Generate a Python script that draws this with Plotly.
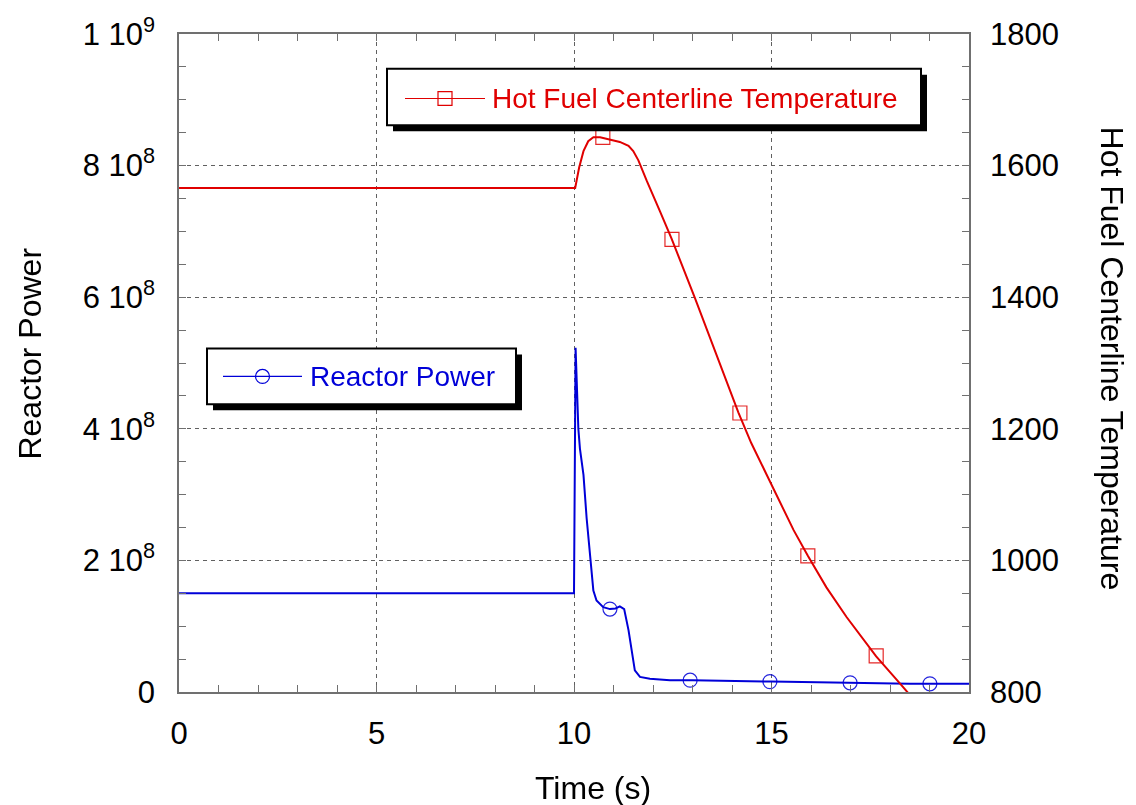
import plotly.graph_objects as go

# Reactor power transient (W) versus time (s)
time_power = [0, 10.0, 10.04, 10.11, 10.15, 10.24, 10.32, 10.41, 10.49, 10.57, 10.74, 10.91,
              11.05, 11.16, 11.27, 11.38, 11.46, 11.54, 11.67, 11.92, 12.43, 13.0, 15.0,
              17.0, 18.45, 18.5, 20.0]
power = [1.5e8, 1.5e8, 5.23e8, 4.0e8, 3.7e8, 3.3e8, 2.64e8, 1.99e8, 1.54e8, 1.39e8, 1.29e8, 1.26e8,
         1.27e8, 1.30e8, 1.26e8, 0.94e8, 0.63e8, 0.33e8, 0.23e8, 0.20e8, 0.18e8, 1.8e7, 1.58e7,
         1.4e7, 1.3e7, 1.25e7, 1.25e7]

# Hot fuel centerline temperature versus time (s)
time_temp = [0, 5, 10.0, 10.03, 10.13, 10.24, 10.36, 10.49, 10.66, 10.91, 11.16, 11.38, 11.5,
             11.63, 11.84, 12.18, 12.47, 13.06, 13.61, 14.16, 14.49, 15.05, 15.56,
             15.92, 16.39, 16.9, 17.65, 18.25, 18.46, 18.7]
temperature = [1566, 1566, 1565, 1566, 1597, 1622, 1637, 1643, 1643, 1639, 1636, 1630, 1622,
               1608, 1577, 1530, 1489, 1399, 1311, 1225, 1178, 1110, 1046,
               1007, 959, 914, 854, 813, 798, 782]

# Symbol positions along each curve
power_marker_t = [10.91, 12.94, 14.96, 16.99, 19.01]
power_marker_v = [1.26e8, 1.8e7, 1.58e7, 1.4e7, 1.25e7]
temp_marker_t = [10.73, 12.48, 14.2, 15.92, 17.65]
temp_marker_v = [1643, 1488, 1224, 1007, 855]

# Tick labels
power_ticks = [0, 2e8, 4e8, 6e8, 8e8, 1e9]
power_ticktext = ["0", "2 10<sup>8</sup>", "4 10<sup>8</sup>", "6 10<sup>8</sup>",
                  "8 10<sup>8</sup>", "1 10<sup>9</sup>"]
temp_ticks = [800, 1000, 1200, 1400, 1600, 1800]
time_ticks = [0, 5, 10, 15, 20]

RED = "#e00000"
BLUE = "#0000d8"
FONT = "Liberation Sans, Arial, sans-serif"
W, H = 1136, 805
L, R, T, B = 179, 969, 29, 692


def px(x):
    return (x - L) / (R - L)


def py(y):
    return (B - y) / (B - T)


fig = go.Figure()
fig.add_trace(go.Scatter(x=time_power, y=power, mode="lines",
                         line=dict(color=BLUE, width=2), showlegend=False))
fig.add_trace(go.Scatter(x=power_marker_t, y=power_marker_v, mode="markers",
                         marker=dict(symbol="circle-open", size=14, color=BLUE,
                                     line=dict(width=1.2, color=BLUE)),
                         opacity=0.85, showlegend=False))
fig.add_trace(go.Scatter(x=time_temp, y=temperature, mode="lines", yaxis="y2",
                         line=dict(color=RED, width=2), showlegend=False))
fig.add_trace(go.Scatter(x=temp_marker_t, y=temp_marker_v, mode="markers", yaxis="y2",
                         marker=dict(symbol="square-open", size=14, color=RED,
                                     line=dict(width=1.2, color=RED)),
                         opacity=0.85, showlegend=False))

TICK_FONT = dict(family=FONT, size=31, color="black")
axis_common = dict(
    showline=True, linecolor="#707070", linewidth=1.5,
    ticks="inside", ticklen=7, tickcolor="#707070", tickwidth=1,
    zeroline=False,
    tickfont=TICK_FONT,
)

fig.update_layout(
    width=W, height=H,
    margin=dict(l=L, r=W - R, t=T, b=H - B),
    paper_bgcolor="white", plot_bgcolor="white",
    font=dict(family=FONT, color="black"),
    xaxis=dict(
        range=[0, 20], tickvals=time_ticks, mirror="ticks",
        showgrid=True, gridcolor="#606060", gridwidth=1, griddash="4px,4px",
        minor=dict(dtick=1, ticks="inside", ticklen=7, tickcolor="#707070", showgrid=False),
        ticklabelstandoff=13,
        **axis_common,
    ),
    yaxis=dict(
        range=[0, 1e9], tickvals=power_ticks, ticktext=power_ticktext, mirror=True,
        showgrid=True, gridcolor="#606060", gridwidth=1, griddash="4px,4px",
        minor=dict(dtick=5e7, tick0=0, ticks="inside", ticklen=7, tickcolor="#707070",
                   showgrid=False),
        ticklabelstandoff=16,
        **axis_common,
    ),
    yaxis2=dict(
        range=[800, 1800], tickvals=temp_ticks, overlaying="y", side="right",
        showgrid=False, showline=False, zeroline=False,
        ticks="inside", ticklen=7, tickcolor="#707070",
        minor=dict(dtick=50, tick0=800, ticks="inside", ticklen=7, tickcolor="#707070"),
        tickfont=TICK_FONT,
        ticklabelstandoff=20,
    ),
)

# Axis titles
TITLE_FONT = dict(family=FONT, size=32, color="black")
fig.add_annotation(text="Time (s)", x=px(593), y=py(789), xref="paper", yref="paper",
                   xanchor="center", yanchor="middle", showarrow=False, font=TITLE_FONT)
fig.add_annotation(text="Reactor Power", x=px(30), y=py(351), xref="paper", yref="paper",
                   xanchor="center", yanchor="middle", textangle=-90, showarrow=False,
                   font=TITLE_FONT)
fig.add_annotation(text="Hot Fuel Centerline Temperature", x=px(1112), y=py(356),
                   xref="paper", yref="paper", xanchor="center", yanchor="middle",
                   textangle=90, showarrow=False, font=TITLE_FONT)


def legend_box(x0, y0, x1, y1, line_x0, line_x1, line_y, symbol, color, label, text_x):
    shadow = 6
    fig.add_shape(type="rect", xref="paper", yref="paper", layer="above",
                  x0=px(x0 + shadow), x1=px(x1 + shadow), y0=py(y0 + shadow), y1=py(y1 + shadow),
                  fillcolor="black", line=dict(width=0))
    fig.add_shape(type="rect", xref="paper", yref="paper", layer="above",
                  x0=px(x0), x1=px(x1), y0=py(y0), y1=py(y1),
                  fillcolor="white", line=dict(color="black", width=2))
    fig.add_shape(type="line", xref="paper", yref="paper", layer="above",
                  x0=px(line_x0), x1=px(line_x1), y0=py(line_y), y1=py(line_y),
                  line=dict(color=color, width=1.2))
    cx = (line_x0 + line_x1) / 2
    s = 7
    fig.add_shape(type=symbol, xref="paper", yref="paper", layer="above",
                  x0=px(cx - s), x1=px(cx + s), y0=py(line_y - s), y1=py(line_y + s),
                  line=dict(color=color, width=1.2), fillcolor="rgba(0,0,0,0)")
    fig.add_annotation(text=label, x=px(text_x), y=py(line_y), xref="paper", yref="paper",
                       xanchor="left", yanchor="middle", showarrow=False,
                       font=dict(family=FONT, size=28, color=color))


legend_box(387, 64, 921, 121, 405, 485, 94, "rect", RED,
           "Hot Fuel Centerline Temperature", 490)
legend_box(207, 346, 516, 402, 223, 302, 374, "circle", BLUE, "Reactor Power", 308)

fig.write_html("out.html")
